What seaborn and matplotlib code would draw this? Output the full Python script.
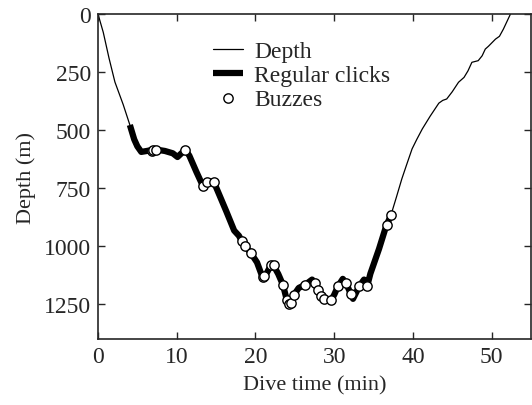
import matplotlib
matplotlib.use("Agg")
import matplotlib.pyplot as plt
import seaborn as sns
import numpy as np
import pandas as pd

# Dive profile (time in min, depth in m)
time_min = [0, 0.67, 1.4, 2.15, 3.2, 4.05, 4.6, 5.0, 5.5, 6.2, 7.0, 7.4, 8.5, 9.5, 10.1, 10.6,
            11.1, 11.6, 12.5, 13.3, 13.6, 13.9, 14.7, 15.3, 16.3, 17.3, 17.9, 18.3, 18.7,
            19.4, 20.2, 20.9, 21.3, 22.0, 22.3, 22.9, 23.5, 24.0, 24.3, 24.6, 24.9, 25.5,
            26.3, 27.2, 27.6, 27.9, 28.3, 28.7, 29.6, 30.0, 30.5, 31.1, 31.5, 32.1, 32.4,
            33.2, 33.8, 34.2, 34.6, 35.7, 36.5, 36.7, 37.2, 37.9, 38.6, 39.2, 39.9, 40.5,
            41.2, 42.2, 43.3, 43.8, 44.3, 45.0, 45.8, 46.5, 47.0, 47.5, 48.3, 48.8, 49.2,
            49.6, 50.5, 51.0, 51.5, 52.4]
depth_m = [0, 79, 190, 293, 390, 478, 540, 570, 594, 590, 585, 584, 590, 600, 616, 600,
           585, 610, 680, 739, 730, 722, 722, 770, 850, 933, 955, 980, 1000,
           1029, 1070, 1134, 1125, 1080, 1083, 1120, 1167, 1234, 1248, 1245, 1210, 1180,
           1167, 1144, 1159, 1191, 1215, 1227, 1234, 1210, 1172, 1141, 1158, 1205, 1227,
           1172, 1144, 1172, 1119, 1012, 925, 907, 868, 790, 710, 650, 581, 540,
           495, 440, 384, 372, 366, 335, 294, 273, 245, 208, 201, 180, 151,
           139, 108, 96, 65, 0]

# Regular clicks period
click_start, click_end = 4.05, 37.2

# Buzzes
buzz_time = [6.8, 7.0, 7.4, 11.1, 13.3, 13.9, 14.7, 18.3, 18.7, 19.4, 20.9, 21.1, 22.0,
             22.3, 23.5, 24.0, 24.3, 24.5, 24.9, 26.3, 27.6, 27.9, 28.3, 28.7, 29.6,
             30.5, 31.5, 32.1, 33.2, 34.2, 36.7, 37.2]
buzz_depth = [588, 585, 584, 585, 739, 722, 722, 980, 1000, 1029, 1134, 1130, 1080,
              1083, 1167, 1234, 1248, 1246, 1210, 1167, 1159, 1191, 1215, 1227, 1234,
              1172, 1158, 1205, 1172, 1172, 907, 868]

sns.set_style("ticks")
plt.rcParams['font.family'] = ['Liberation Serif', 'DejaVu Serif']

fig = plt.figure(figsize=(5.32, 4.06), dpi=100)
ax = fig.add_axes([0.1842, 0.1626, 0.8138, 0.8004])

df = pd.DataFrame({"t": time_min, "d": depth_m})
clk = df[(df.t >= click_start) & (df.t <= click_end)]
bz = pd.DataFrame({"t": buzz_time, "d": buzz_depth})

sns.lineplot(data=df, x="t", y="d", sort=False, estimator=None, color="black",
             linewidth=0.9, ax=ax, label="Depth")
sns.lineplot(data=clk, x="t", y="d", sort=False, estimator=None, color="black",
             linewidth=4.5, ax=ax, label="Regular clicks", solid_capstyle="butt")
sns.scatterplot(data=bz, x="t", y="d", facecolor="white", edgecolor="black",
                linewidth=1.0, s=45, ax=ax, label="Buzzes", zorder=5)

ax.set_xlim(0, 55)
ax.set_ylim(1400, 0)
ax.set_xticks([0, 10, 20, 30, 40, 50])
ax.set_yticks([0, 250, 500, 750, 1000, 1250])
ax.tick_params(direction="in", top=True, right=True, labelsize=17, length=5,
               width=1.0, pad=5)
for s in ax.spines.values():
    s.set_linewidth(1.2)
    s.set_visible(True)
ax.set_xlabel("Dive time (min)", fontsize=16, labelpad=6)
ax.set_ylabel("Depth (m)", fontsize=16, labelpad=6)

leg = ax.legend(loc="upper left", bbox_to_anchor=(0.243, 0.948), frameon=False,
                fontsize=17, handlelength=1.3, handletextpad=0.45, labelspacing=0.1,
                borderaxespad=0.0)

fig.savefig("out.png", dpi=100)
